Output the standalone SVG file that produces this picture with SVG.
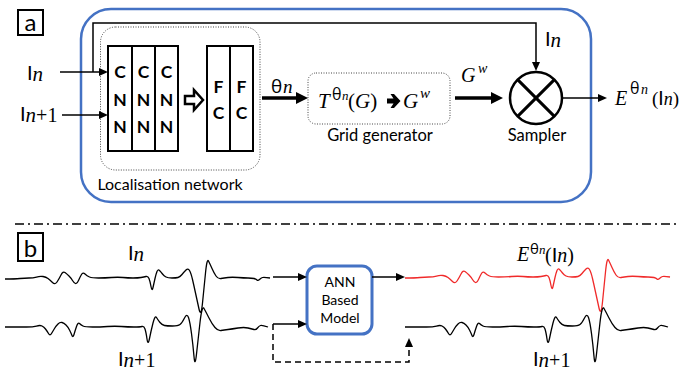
<svg xmlns="http://www.w3.org/2000/svg" xmlns:xlink="http://www.w3.org/1999/xlink" width="680" height="377" viewBox="0 0 680 377">
<defs>
<marker id="ah" markerUnits="userSpaceOnUse" markerWidth="9" markerHeight="8" refX="2" refY="4" orient="auto"><path d="M0,0 L9,4 L0,8 z" fill="#000"/></marker>
<marker id="ahb" markerUnits="userSpaceOnUse" markerWidth="12" markerHeight="12" refX="3" refY="6" orient="auto"><path d="M0,0 L12,6 L0,12 z" fill="#000"/></marker>
<path id="waveA" class="wave" d="M5,279 Q15,279 20,278.5 Q25,278 29,278 Q33,278 36.5,277 Q40,276 43,276.5 Q46,277 48,278.5 Q50,280 52.5,282.5 Q55,285 57,282 Q59,279 61,275 Q63,271 65,272.5 Q67,274 69,276 Q71,278 72.5,280.5 Q74,283 75.5,283.5 Q77,284 78.5,280.5 Q80,277 81.5,274.5 Q83,272 85,274 Q87,276 89.5,277 Q92,278 98.5,278 Q105,278 111.5,277.5 Q118,277 123,277.5 Q128,278 133,278 Q138,278 141,277.5 Q144,277 146,276.5 Q148,276 149,278.5 Q150,281 151,286.5 Q152,292 153,287.5 Q154,283 155,278.5 Q156,274 157,271.5 Q158,269 159.5,270.5 Q161,272 162.5,274 Q164,276 166,277 Q168,278 172,278 Q176,278 178,277.5 Q180,277 182,274.5 Q184,272 186,270 Q188,268 189.5,270.5 Q191,273 192.5,279.5 Q194,286 195.5,293 Q197,300 199,309 Q201,318 202.5,303 Q204,288 205.5,273 Q207,258 208.5,261 Q210,264 212,268.5 Q214,273 216,276 Q218,279 221,278.5 Q224,278 228,277.5 Q232,277 238,277.5 Q244,278 248,278 Q252,278 254,278.5 Q256,279 257,280 Q258,281 259.5,279.5 Q261,278 262.5,277.5 Q264,277 270,278"/>
<path id="waveB" class="wave" d="M5,327 Q20,327 26.5,327 Q33,327 36.5,326 Q40,325 42,326 Q44,327 45.5,329 Q47,331 48.5,333.5 Q50,336 51.5,333.5 Q53,331 54.5,328.5 Q56,326 58,324 Q60,322 62,322.5 Q64,323 66,325 Q68,327 69.5,330 Q71,333 72,335.5 Q73,338 74,334.5 Q75,331 76.5,326.5 Q78,322 79.5,323.5 Q81,325 83,326 Q85,327 92.5,327 Q100,327 107.5,326.5 Q115,326 121.5,326.5 Q128,327 134,327 Q140,327 142,326.5 Q144,326 145,329 Q146,332 147,339 Q148,346 149.5,338.5 Q151,331 153,323 Q155,315 156.5,317.5 Q158,320 160,322.5 Q162,325 164.5,325.5 Q167,326 172.5,326 Q178,326 180,324.5 Q182,323 184.5,318 Q187,313 188.5,317.5 Q190,322 191.5,333.5 Q193,345 194,356.5 Q195,368 196.5,354 Q198,340 200,322.5 Q202,305 204,308.5 Q206,312 209,318 Q212,324 215,327.5 Q218,331 221,330.5 Q224,330 228,329.5 Q232,329 238,328 Q244,327 248,328 Q252,329 254,329.5 Q256,330 257.5,328 Q259,326 260.5,325.5 Q262,325 268,327"/>
</defs>
<style>
.sans{font-family:Lato,"Open Sans","Liberation Sans",sans-serif}
.gr{font-family:"Open Sans","DejaVu Sans",sans-serif}
.math{font-family:"Liberation Serif","DejaVu Serif",serif;font-style:italic}
.up{font-family:"Liberation Serif","DejaVu Serif",serif}
.thin{stroke:#000;stroke-width:1.5;fill:none}
.thick{stroke:#000;stroke-width:3.5;fill:none}
.box{fill:#fff;stroke:#000;stroke-width:2}
.dotbox{fill:none;stroke:#444;stroke-width:1;stroke-dasharray:1 1.5}
.wave{fill:none;stroke-width:1.3;stroke-linejoin:round}
.cnn{font-family:Lato,"Open Sans","Liberation Sans",sans-serif;font-weight:700;font-size:17.5px;text-anchor:middle}
</style>
<rect width="680" height="377" fill="#fff"/>

<!-- panel labels -->
<g id="label-a"><rect x="18" y="10" width="25" height="25" fill="none" stroke="#000" stroke-width="2"/><text class="sans" x="30.5" y="31" font-size="24" text-anchor="middle">a</text></g>
<g id="label-b"><rect x="18" y="233" width="25" height="28" fill="none" stroke="#000" stroke-width="2"/><text class="sans" x="30.5" y="257" font-size="24" text-anchor="middle">b</text></g>

<!-- part a -->
<g id="stn-frame"><rect x="81" y="9" width="510" height="193" rx="30" fill="none" stroke="#4472c4" stroke-width="2.5"/></g>

<g id="localisation-network">
<rect class="dotbox" x="100.5" y="27" width="159.5" height="143" rx="15"/>
<text class="sans" x="170" y="190" font-size="16" text-anchor="middle">Localisation network</text>
</g>
<g id="cnn">
<rect class="box" x="108" y="46" width="70" height="105"/>
<line x1="132" y1="46" x2="132" y2="151" stroke="#000" stroke-width="2"/>
<line x1="155" y1="46" x2="155" y2="151" stroke="#000" stroke-width="2"/>
<text class="cnn" x="120" y="78">C</text><text class="cnn" x="120" y="106">N</text><text class="cnn" x="120" y="133">N</text>
<text class="cnn" x="143.5" y="78">C</text><text class="cnn" x="143.5" y="106">N</text><text class="cnn" x="143.5" y="133">N</text>
<text class="cnn" x="166.5" y="78">C</text><text class="cnn" x="166.5" y="106">N</text><text class="cnn" x="166.5" y="133">N</text>
</g>
<g id="fc">
<rect class="box" x="207" y="46" width="46" height="105"/>
<line x1="230" y1="46" x2="230" y2="151" stroke="#000" stroke-width="2"/>
<text class="cnn" x="218.5" y="93">F</text><text class="cnn" x="218.5" y="119">C</text>
<text class="cnn" x="241.5" y="93">F</text><text class="cnn" x="241.5" y="119">C</text>
</g>
<g id="hollow-arrow"><polygon points="185,96 194,96 194,90 203,100 194,110 194,104 185,104" fill="#fff" stroke="#000" stroke-width="2.5"/></g>

<g id="grid-generator">
<rect class="dotbox" x="308" y="73" width="142" height="51" rx="8"/>
<text y="108">
<tspan class="math" x="318" font-size="21">T</tspan><tspan class="gr" x="332" y="100" font-size="16">θ</tspan><tspan class="math" x="342" y="100" font-size="13">n</tspan><tspan class="up" x="348" y="108" font-size="21">(</tspan><tspan class="math" font-size="21">G</tspan><tspan class="up" font-size="21">)</tspan><tspan class="math" x="403" y="108" font-size="21">G</tspan><tspan class="math" x="420" y="98" font-size="15">w</tspan>
</text>
<polygon points="387,98.5 393.5,98.5 390.5,94 394,94 400.5,101 394,108 390.5,108 393.5,103.5 387,103.5" fill="#000"/>
<text class="sans" x="380" y="141" font-size="16.5" text-anchor="middle">Grid generator</text>
</g>

<g id="sampler">
<circle cx="536" cy="98" r="26" fill="#fff" stroke="#000" stroke-width="2.5"/>
<line x1="517.6" y1="79.6" x2="554.4" y2="116.4" stroke="#000" stroke-width="3"/>
<line x1="554.4" y1="79.6" x2="517.6" y2="116.4" stroke="#000" stroke-width="3"/>
<text class="sans" x="537" y="141" font-size="16.5" text-anchor="middle">Sampler</text>
</g>

<g id="labels-a">
<text class="sans" x="27" y="80" font-size="20">I<tspan class="math" font-size="21" dy="1">n</tspan></text>
<text class="sans" x="20" y="121" font-size="20">I<tspan class="math" font-size="21" dy="1">n</tspan><tspan class="up" font-size="20">+1</tspan></text>
<text y="93"><tspan class="gr" x="271" font-size="19">θ</tspan><tspan class="math" x="283" font-size="19">n</tspan></text>
<text y="82"><tspan class="math" x="461" font-size="20">G</tspan><tspan class="math" x="478" y="73" font-size="14">w</tspan></text>
<text class="sans" x="545" y="46" font-size="20">I<tspan class="math" font-size="21" dy="1">n</tspan></text>
<text y="105"><tspan class="math" x="615" font-size="20">E</tspan><tspan class="gr" x="630" y="94" font-size="16">θ</tspan><tspan class="math" x="641" y="94" font-size="14">n</tspan><tspan class="up" x="652" y="105" font-size="19">(</tspan><tspan class="sans" font-size="19">I</tspan><tspan class="math" font-size="18">n</tspan><tspan class="up" font-size="19">)</tspan></text>
</g>

<!-- separator -->
<line x1="15" y1="224" x2="676" y2="224" stroke="#000" stroke-width="1.5" stroke-dasharray="9 4 2 4"/>

<!-- part b -->
<g id="waveforms">
<use xlink:href="#waveA" href="#waveA" stroke="#000"/>
<use xlink:href="#waveB" href="#waveB" stroke="#000"/>
<use xlink:href="#waveA" href="#waveA" stroke="#f02a2a" transform="translate(400,-1)"/>
<use xlink:href="#waveB" href="#waveB" stroke="#000" transform="translate(400,0)"/>
</g>

<g id="ann-model">
<rect x="307" y="266" width="65" height="68" rx="10" fill="#fff" stroke="#4472c4" stroke-width="3"/>
<text class="sans" x="340" y="287" font-size="14" text-anchor="middle">ANN</text>
<text class="sans" x="340" y="305" font-size="14" text-anchor="middle">Based</text>
<text class="sans" x="340" y="323" font-size="14" text-anchor="middle">Model</text>
</g>

<g id="labels-b">
<text class="sans" x="128" y="260" font-size="20">I<tspan class="math" font-size="21" dy="1">n</tspan></text>
<text class="sans" x="118" y="366" font-size="20">I<tspan class="math" font-size="21" dy="1">n</tspan><tspan class="up" font-size="20">+1</tspan></text>
<text class="sans" x="533" y="366" font-size="20">I<tspan class="math" font-size="21" dy="1">n</tspan><tspan class="up" font-size="20">+1</tspan></text>
<text y="261"><tspan class="math" x="517" font-size="20">E</tspan><tspan class="gr" x="530" y="254" font-size="15">θ</tspan><tspan class="math" x="539" y="254" font-size="13">n</tspan><tspan class="up" x="545" y="262" font-size="20">(</tspan><tspan class="sans" font-size="20">I</tspan><tspan class="math" font-size="20">n</tspan><tspan class="up" font-size="20">)</tspan></text>
</g>

<g id="connectors">
<path class="thin" d="M60,72 L101,72" marker-end="url(#ah)"/>
<path class="thin" d="M62,115 L101,115" marker-end="url(#ah)"/>
<path class="thin" d="M93,72 V23 H536 V64" marker-end="url(#ah)"/>
<path class="thick" d="M262,98 L299,98" marker-end="url(#ahb)"/>
<path class="thick" d="M455,98 L494,98" marker-end="url(#ahb)"/>
<path class="thin" d="M562,98 L600,98" marker-end="url(#ah)"/>
<path class="thin" d="M273,277 L300,277" marker-end="url(#ah)"/>
<path class="thin" d="M273,324 L300,324" marker-end="url(#ah)"/>
<path class="thin" d="M273,324 V362 H409 V345" stroke-dasharray="6 4" marker-end="url(#ah)"/>
<path class="thin" d="M372,277 L398,277" marker-end="url(#ah)"/>
</g>
</svg>
